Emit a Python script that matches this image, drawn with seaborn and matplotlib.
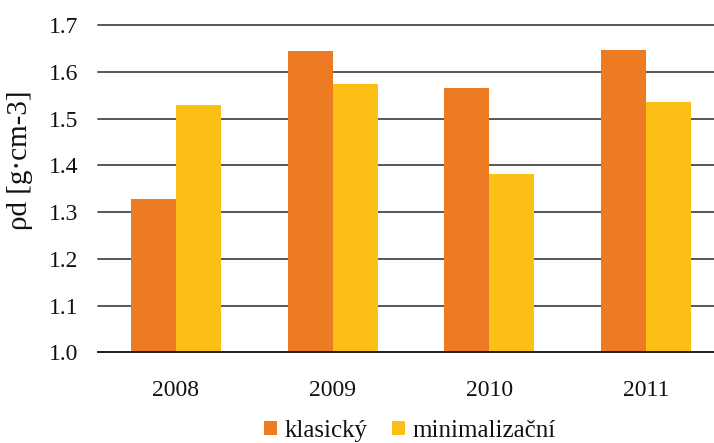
import matplotlib
matplotlib.use("Agg")
import matplotlib.pyplot as plt
import seaborn as sns
import pandas as pd

years = ["2008", "2009", "2010", "2011"]
series_names = ["klasický", "minimalizační"]
klasicky = [1.328, 1.644, 1.565, 1.647]
minimalizacni = [1.528, 1.573, 1.381, 1.535]
y_ticks = [1.0, 1.1, 1.2, 1.3, 1.4, 1.5, 1.6, 1.7]
y_label = "ρd [g·cm-3]"
colors = ["#ED7B23", "#FBBF16"]

df = pd.DataFrame({
    "year": years * 2,
    "series": [series_names[0]] * len(years) + [series_names[1]] * len(years),
    "value": klasicky + minimalizacni,
})

sns.set_theme(style="white")
plt.rcParams["font.family"] = ["Liberation Serif", "DejaVu Serif"]

fig = plt.figure(figsize=(7.14, 4.43), dpi=100)
ax = fig.add_axes([97.7 / 714, 1 - 352.3 / 443, (724 - 97.7) / 714, (352.3 - 25) / 443])

sns.barplot(data=df, x="year", y="value", hue="series", palette=colors,
            width=0.575, gap=0, saturation=1, errorbar=None, ax=ax,
            linewidth=0, zorder=2)

ax.set_ylim(1.0, 1.7)
ax.set_yticks(y_ticks)
ax.set_yticklabels([f"{t:.1f}" for t in y_ticks])
ax.yaxis.grid(True, color="#4a4a4a", linewidth=1.3)
ax.set_axisbelow(True)
for gl in ax.get_ygridlines():
    gl.set_clip_on(False)

for s in ["left", "right", "top"]:
    ax.spines[s].set_visible(False)
ax.spines["bottom"].set_color("#222222")
ax.spines["bottom"].set_linewidth(1.4)
ax.spines["bottom"].set_zorder(5)

ax.tick_params(axis="y", length=0, pad=14, labelsize=17, labelcolor="#111111")
ax.tick_params(axis="x", length=0, pad=20, labelsize=17, labelcolor="#111111")
ax.set_xlabel("")
ax.set_ylabel(y_label, fontsize=21, color="#111111")
ax.yaxis.set_label_coords(-0.104, (352.3 - 160) / (352.3 - 25))

handles, labels = ax.get_legend_handles_labels()
ax.get_legend().remove()
fig.legend(handles, labels, loc="center", bbox_to_anchor=(410 / 714, 1 - 431 / 443),
           ncol=2, frameon=False, fontsize=18, handlelength=0.52, handleheight=0.52,
           handletextpad=0.3, columnspacing=1.0, labelcolor="#111111")

fig.savefig("out.png", dpi=100)
